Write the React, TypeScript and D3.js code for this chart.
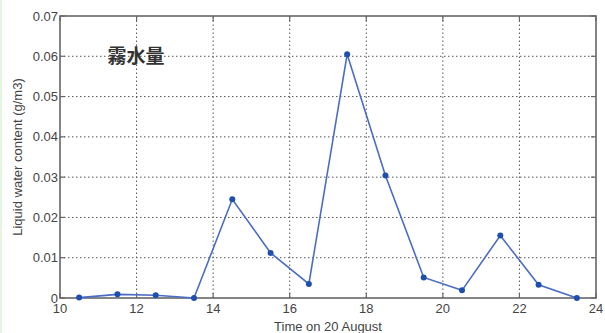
import React from 'react';
import * as d3 from 'd3';

const hours = [10.5, 11.5, 12.5, 13.5, 14.5, 15.5, 16.5, 17.5, 18.5, 19.5, 20.5, 21.5, 22.5, 23.5];
const lwc = [0.0001, 0.0009, 0.0007, 0.0, 0.0245, 0.0112, 0.0035, 0.0605, 0.0304, 0.0051, 0.0019, 0.0155, 0.0033, 0.0];
const xTicks = [10, 12, 14, 16, 18, 20, 22, 24];
const yTicks = [0, 0.01, 0.02, 0.03, 0.04, 0.05, 0.06, 0.07];
const yTickLabels = ['0', '0.01', '0.02', '0.03', '0.04', '0.05', '0.06', '0.07'];

const W = 605;
const H = 333;
const margin = { top: 16, right: 9, bottom: 35, left: 60 };

export default function App() {
  const x = d3.scaleLinear().domain([10, 24]).range([margin.left, W - margin.right]);
  const y = d3.scaleLinear().domain([0, 0.07]).range([H - margin.bottom, margin.top]);
  const line = d3.line<number>().x((d, i) => x(hours[i])).y(d => y(d));
  const font = '"Liberation Sans", Arial, sans-serif';
  const axisColor = '#666';
  const gridDash = '1.5,2.5';

  return (
    <svg width={W} height={H} style={{ position: 'absolute', left: 0, top: 0, background: '#fff' }}>
      <rect x={0} y={0} width={2} height={H} fill="#e6f5e0" />
      {/* grid */}
      {xTicks.slice(1, -1).map(t => (
        <line key={'gx' + t} x1={x(t)} x2={x(t)} y1={y(0)} y2={y(0.07)} stroke="#555" strokeWidth={1} strokeDasharray={gridDash} />
      ))}
      {yTicks.slice(1, -1).map(t => (
        <line key={'gy' + t} x1={x(10)} x2={x(24)} y1={y(t)} y2={y(t)} stroke="#555" strokeWidth={1} strokeDasharray={gridDash} />
      ))}
      {/* ticks, inward */}
      {xTicks.map(t => (
        <g key={'tx' + t}>
          <line x1={x(t)} x2={x(t)} y1={y(0)} y2={y(0) - 5} stroke={axisColor} strokeWidth={1.2} />
          <line x1={x(t)} x2={x(t)} y1={y(0.07)} y2={y(0.07) + 5} stroke={axisColor} strokeWidth={1.2} />
          <text x={x(t)} y={y(0) + 15} textAnchor="middle" fontFamily={font} fontSize={13} fill="#444">{t}</text>
        </g>
      ))}
      {yTicks.map((t, i) => (
        <g key={'ty' + t}>
          <line x1={x(10)} x2={x(10) + 5} y1={y(t)} y2={y(t)} stroke={axisColor} strokeWidth={1.2} />
          <line x1={x(24)} x2={x(24) - 5} y1={y(t)} y2={y(t)} stroke={axisColor} strokeWidth={1.2} />
          <text x={x(10) - 2} y={y(t) + 4.5} textAnchor="end" fontFamily={font} fontSize={13} fill="#444">{yTickLabels[i]}</text>
        </g>
      ))}
      {/* frame */}
      <rect x={x(10)} y={y(0.07)} width={x(24) - x(10)} height={y(0) - y(0.07)} fill="none" stroke={axisColor} strokeWidth={1.6} />
      {/* series */}
      <path d={line(lwc) || ''} fill="none" stroke="#4a6cc4" strokeWidth={1.6} />
      {lwc.map((v, i) => (
        <circle key={'p' + i} cx={x(hours[i])} cy={y(v)} r={3} fill="#1f4fae" />
      ))}
      <text x={136} y={63} textAnchor="middle" fontFamily='"Noto Sans CJK JP", "Noto Sans CJK SC", sans-serif' fontWeight="bold" fontSize={19} fill="#333">霧水量</text>
      <text x={(x(10) + x(24)) / 2} y={331} textAnchor="middle" fontFamily={font} fontSize={13} fill="#444">Time on 20 August</text>
      <text transform={`translate(22,${(y(0) + y(0.07)) / 2}) rotate(-90)`} textAnchor="middle" fontFamily={font} fontSize={13} fill="#444">Liquid water content (g/m3)</text>
    </svg>
  );
}
